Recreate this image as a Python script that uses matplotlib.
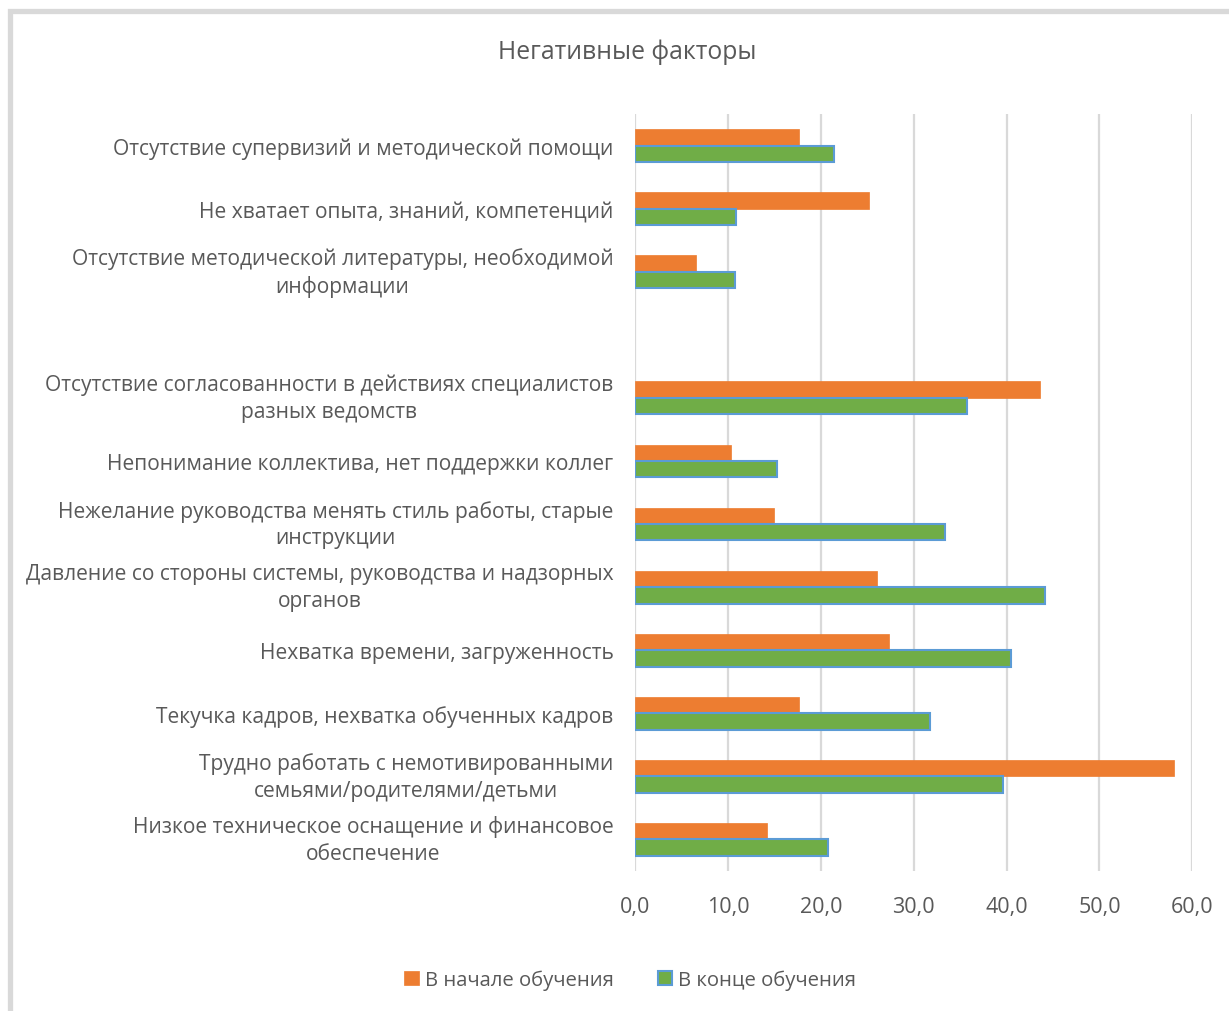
import matplotlib
matplotlib.use("Agg")
import matplotlib.pyplot as plt
import numpy as np
from matplotlib.patches import Rectangle

plt.rcParams['font.family'] = ['Open Sans', 'DejaVu Sans']

categories = [
    "Отсутствие супервизий и методической помощи",
    "Не хватает опыта, знаний, компетенций",
    "Отсутствие методической литературы, необходимой\nинформации",
    "",
    "Отсутствие согласованности в действиях специалистов\nразных ведомств",
    "Непонимание коллектива, нет поддержки коллег",
    "Нежелание руководства менять стиль работы, старые\nинструкции",
    "Давление со стороны системы, руководства и надзорных\nорганов",
    "Нехватка времени, загруженность",
    "Текучка кадров, нехватка обученных кадров",
    "Трудно работать с немотивированными\nсемьями/родителями/детьми",
    "Низкое техническое оснащение и финансовое\nобеспечение",
]
start_vals = [17.7, 25.2, 6.6, None, 43.6, 10.3, 15.0, 26.1, 27.3, 17.7, 58.0, 14.2]
end_vals = [21.4, 10.9, 10.8, None, 35.7, 15.3, 33.4, 44.1, 40.5, 31.8, 39.6, 20.8]
xticks = [0, 10, 20, 30, 40, 50, 60]
xticklabels = ["0,0", "10,0", "20,0", "30,0", "40,0", "50,0", "60,0"]
series_names = ["В начале обучения", "В конце обучения"]
title = "Негативные факторы"

text_color = "#595959"
orange = "#ED7D31"
green = "#70AD47"
edge_blue = "#5B9BD5"

fig = plt.figure(figsize=(12.29, 10.12), dpi=100)
ax = fig.add_axes([0.5167, 0.1383, 0.4535, 0.7481])

y = np.arange(len(categories))
h = 0.26
ys = [i for i, v in enumerate(start_vals) if v is not None]
ye = [i for i, v in enumerate(end_vals) if v is not None]
ax.barh(np.array(ys) - h / 2, [start_vals[i] for i in ys], height=h, color=orange,
        edgecolor=orange, linewidth=0.5, label=series_names[0], zorder=3)
ax.barh(np.array(ye) + h / 2, [end_vals[i] for i in ye], height=h, color=green,
        edgecolor=edge_blue, linewidth=1.5, label=series_names[1], zorder=3)

ax.set_ylim(len(categories) - 0.5, -0.5)
ax.set_xlim(0, 60)
ax.set_yticks(y)
ax.set_yticklabels(categories, fontsize=15.1, color=text_color,
                   multialignment='center', linespacing=1.36)
for lbl, cat in zip(ax.get_yticklabels(), categories):
    if "\n" in cat:
        lbl.set_va('center')
ax.set_xticks(xticks)
ax.set_xticklabels(xticklabels, fontsize=15.5, color=text_color)
ax.tick_params(axis='both', length=0)
ax.tick_params(axis='y', pad=15.5)
ax.tick_params(axis='x', pad=18)
for s in ax.spines.values():
    s.set_visible(False)
ax.grid(axis='x', color="#d9d9d9", linewidth=1.6, zorder=0)
ax.set_axisbelow(True)

fig.text(0.51, 0.9486, title, ha='center', va='center', fontsize=17.8, color=text_color)

handles, labels = ax.get_legend_handles_labels()
leg = fig.legend(handles, labels, loc='center', bbox_to_anchor=(0.513, 0.031), ncol=2,
                 frameon=False, fontsize=14.6, handlelength=0.7, handleheight=0.7,
                 handletextpad=0.3, columnspacing=2.2)
for t in leg.get_texts():
    t.set_color(text_color)

fig.patches.append(Rectangle((10 / 1229, -0.05), 1.2, 1 - 11.5 / 1012 + 0.05,
                             transform=fig.transFigure, fill=False,
                             edgecolor="#d9d9d9", linewidth=3.8))

fig.savefig("out.png", dpi=100, facecolor="white")
